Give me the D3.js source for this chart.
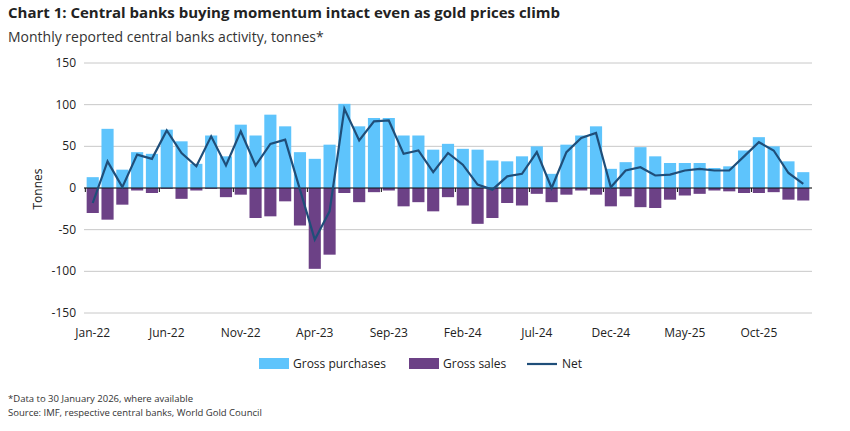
<!DOCTYPE html>
<html><head><meta charset="utf-8">
<script src="https://cdn.jsdelivr.net/npm/d3@7"></script>
<style>body{margin:0;background:#fff;font-family:"Open Sans",sans-serif}</style>
</head><body>
<script>
const months = [];
const mNames = ['Jan','Feb','Mar','Apr','May','Jun','Jul','Aug','Sep','Oct','Nov','Dec'];
for (let i = 0; i < 49; i++) months.push(mNames[i % 12] + '-' + (22 + Math.floor(i / 12)));

const purchases = [13,71,22,43,41,70,56,29,63,38,76,63, 88,74,43,35,52,101,74,84,84,63,63,46,
  53,47,46,33,32,38,50,17,52,63,74,23, 31,49,38,30,30,30,24,26,45,61,50,32, 19];
const sales = [-30,-38,-20,-3,-6,-1,-13,-3,-1,-11,-8,-36, -34,-16,-45,-97,-80,-6,-17,-5,-3,-22,-17,-28,
  -11,-21,-43,-36,-18,-21,-7,-17,-8,-3,-8,-22, -10,-23,-24,-14,-9,-7,-3,-4,-6,-6,-5,-14, -15];
const net = [-18,32,1,40,35,69,42,26,62,27,68,27, 53,58,-2,-62,-28,95,57,80,81,41,45,19,
  42,28,4,-2,14,17,43,0,43,60,66,1, 21,25,15,16,21,23,21,21,38,55,45,18, 5];
const yTicks = [150,100,50,0,-50,-100,-150];

const W = 850, H = 431;
const svg = d3.select('body').append('svg').attr('width', W).attr('height', H);

svg.append('text').attr('x', 8).attr('y', 18).attr('font-size', 15).attr('font-weight', 700)
  .attr('fill', '#222').text('Chart 1: Central banks buying momentum intact even as gold prices climb');
svg.append('text').attr('x', 8).attr('y', 42).attr('font-size', 14).attr('fill', '#333')
  .text('Monthly reported central banks activity, tonnes*');

const x = d3.scaleBand().domain(months).range([84, 812]).padding(0.18);
const y = d3.scaleLinear().domain([-150, 150]).range([313, 63]);

svg.append('g').selectAll('line').data(yTicks).join('line')
  .attr('x1', 84).attr('x2', 812).attr('y1', d => y(d)).attr('y2', d => y(d))
  .attr('stroke', '#c8c8c8').attr('stroke-width', 1);
svg.append('g').selectAll('text').data(yTicks).join('text')
  .attr('x', 76).attr('y', d => y(d) + 4).attr('text-anchor', 'end')
  .attr('font-size', 12).attr('fill', '#222').text(d => d);
svg.append('text').attr('transform', 'translate(42,189) rotate(-90)').attr('text-anchor', 'middle')
  .attr('font-size', 12).attr('fill', '#222').text('Tonnes');

svg.append('g').selectAll('rect').data(purchases).join('rect')
  .attr('x', (d, i) => x(months[i])).attr('width', x.bandwidth())
  .attr('y', d => y(d)).attr('height', d => y(0) - y(d)).attr('fill', '#5ec4fc');
svg.append('g').selectAll('rect').data(sales).join('rect')
  .attr('x', (d, i) => x(months[i])).attr('width', x.bandwidth())
  .attr('y', y(0)).attr('height', d => y(d) - y(0)).attr('fill', '#6c4186');

svg.append('line').attr('x1', 84).attr('x2', 812).attr('y1', y(0)).attr('y2', y(0))
  .attr('stroke', '#111').attr('stroke-width', 1);
const labelIdx = d3.range(0, 49, 5);
svg.append('g').selectAll('line').data(labelIdx).join('line')
  .attr('x1', i => x(months[i]) - x.step() * x.paddingInner() / 2)
  .attr('x2', i => x(months[i]) - x.step() * x.paddingInner() / 2)
  .attr('y1', y(0)).attr('y2', y(0) + 4).attr('stroke', '#111');

svg.append('path').datum(net)
  .attr('d', d3.line().x((d, i) => x(months[i]) + x.bandwidth() / 2).y(d => y(d)))
  .attr('fill', 'none').attr('stroke', '#1f4e79').attr('stroke-width', 2.2);

svg.append('g').selectAll('text').data(labelIdx).join('text')
  .attr('x', i => x(months[i]) + x.bandwidth() / 2).attr('y', 337).attr('text-anchor', 'middle')
  .attr('font-size', 12).attr('fill', '#222').text(i => months[i]);

const lg = svg.append('g').attr('font-size', 12).attr('fill', '#222');
lg.append('rect').attr('x', 259).attr('y', 358).attr('width', 30).attr('height', 11).attr('fill', '#5ec4fc');
lg.append('text').attr('x', 293).attr('y', 368).text('Gross purchases');
lg.append('rect').attr('x', 409).attr('y', 358).attr('width', 30).attr('height', 11).attr('fill', '#6c4186');
lg.append('text').attr('x', 443).attr('y', 368).text('Gross sales');
lg.append('line').attr('x1', 527).attr('x2', 557).attr('y1', 364).attr('y2', 364).attr('stroke', '#1f4e79').attr('stroke-width', 2.2);
lg.append('text').attr('x', 562).attr('y', 368).text('Net');

svg.append('text').attr('x', 8).attr('y', 402).attr('font-size', 9.5).attr('fill', '#333')
  .text('*Data to 30 January 2026, where available');
svg.append('text').attr('x', 8).attr('y', 416).attr('font-size', 9.5).attr('fill', '#333')
  .text('Source: IMF, respective central banks, World Gold Council');
</script>
</body></html>
